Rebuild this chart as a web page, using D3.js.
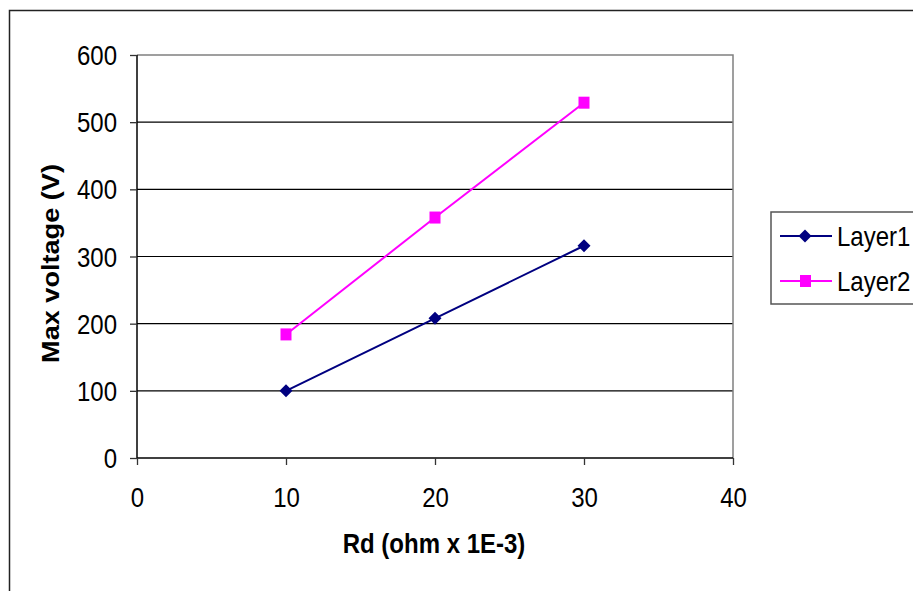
<!DOCTYPE html>
<html><head><meta charset="utf-8">
<script src="https://cdn.jsdelivr.net/npm/d3@7"></script>
<style>body{margin:0;background:#fff;}text{font-family:"Liberation Sans",Arial,sans-serif;}</style>
</head><body>
<svg id="c" width="913" height="591"></svg>
<script>
const xValues = [10, 20, 30];
const layer1 = [100, 208, 316];
const layer2 = [184, 358, 529];
const seriesNames = ["Layer1", "Layer2"];
const xTicks = [0, 10, 20, 30, 40];
const yTicks = [0, 100, 200, 300, 400, 500, 600];
const xTitle = "Rd (ohm x 1E-3)";
const yTitle = "Max voltage (V)";

const SY = 1.13; // vertical stretch of the reference's text
const svg = d3.select("#c");
const L = 137, R = 733, T = 55, B = 458;
const x = d3.scaleLinear().domain([0, 40]).range([L, R]);
const y = d3.scaleLinear().domain([0, 600]).range([B, T]);

// outer border
svg.append("rect").attr("x", 9.5).attr("y", 10.5).attr("width", 1000).attr("height", 1000)
  .attr("fill", "none").attr("stroke", "#222").attr("stroke-width", 1.5);

// gridlines
svg.append("g").selectAll("line").data(yTicks.filter(d => d > 0 && d < 600)).join("line")
  .attr("x1", L).attr("x2", R).attr("y1", d => y(d)).attr("y2", d => y(d))
  .attr("stroke", "#000").attr("stroke-width", 1.2);

// plot border (gray top/right)
svg.append("path").attr("d", `M${L},${T}H${R}V${B}`).attr("fill", "none")
  .attr("stroke", "#808080").attr("stroke-width", 1.5);

// axes
const yAxis = svg.append("g").attr("transform", `translate(${L},0)`)
  .call(d3.axisLeft(y).tickValues(yTicks).tickSize(7).tickFormat(d3.format("d")));
const xAxis = svg.append("g").attr("transform", `translate(0,${B})`)
  .call(d3.axisBottom(x).tickValues(xTicks).tickSize(7).tickFormat(d3.format("d")));
[yAxis, xAxis].forEach(a => {
  a.select(".domain").attr("stroke", "#000").attr("stroke-width", 1.5);
  a.selectAll(".tick line").attr("stroke", "#333").attr("stroke-width", 1.3);
  a.selectAll("text").attr("font-size", 24).attr("fill", "#000")
    .attr("font-family", "'Liberation Sans', Arial, sans-serif")
    .attr("x", 0).attr("y", 0).attr("dy", null);
});
yAxis.selectAll(".tick text").attr("text-anchor", "end")
  .attr("transform", `translate(-20,9.5) scale(1,${SY})`);
xAxis.selectAll(".tick text").attr("text-anchor", "middle")
  .attr("transform", `translate(0,49) scale(1,${SY})`);
yAxis.select(".domain").attr("d", `M0,${T}V${B}`);
xAxis.select(".domain").attr("d", `M${L},0H${R}`);

// series
const colors = ["#000080", "#FF00FF"];
const data = [layer1, layer2];
const line = d3.line().x((d, i) => x(xValues[i])).y(d => y(d));
data.forEach((s, k) => {
  svg.append("path").datum(s).attr("d", line).attr("fill", "none")
    .attr("stroke", colors[k]).attr("stroke-width", 2);
});
const diamond = d3.symbol().type(d3.symbolSquare).size(85);
svg.append("g").selectAll("path").data(layer1).join("path")
  .attr("d", diamond).attr("fill", colors[0])
  .attr("transform", (d, i) => `translate(${x(xValues[i])},${y(d)}) rotate(45)`);
svg.append("g").selectAll("rect").data(layer2).join("rect")
  .attr("x", (d, i) => x(xValues[i]) - 5.5).attr("y", d => y(d) - 6)
  .attr("width", 11).attr("height", 12).attr("fill", colors[1]);

// axis titles
svg.append("text").attr("transform", `translate(434,553) scale(1,${SY})`).attr("text-anchor", "middle")
  .attr("font-size", 24).attr("font-weight", "bold").text(xTitle);
svg.append("text").attr("transform", `translate(59,263.5) scale(1,${SY}) rotate(-90)`).attr("text-anchor", "middle")
  .attr("font-size", 24).attr("font-weight", "bold").text(yTitle);

// legend
const lg = svg.append("g");
lg.append("rect").attr("x", 771).attr("y", 212).attr("width", 300).attr("height", 92)
  .attr("fill", "#fff").attr("stroke", "#555").attr("stroke-width", 1.5);
const ly = [236, 281];
seriesNames.forEach((n, k) => {
  lg.append("line").attr("x1", 780).attr("x2", 832).attr("y1", ly[k]).attr("y2", ly[k])
    .attr("stroke", colors[k]).attr("stroke-width", 2);
  if (k === 0) {
    lg.append("path").attr("d", diamond).attr("fill", colors[0])
      .attr("transform", `translate(805,${ly[k]}) rotate(45)`);
  } else {
    lg.append("rect").attr("x", 800).attr("y", ly[k] - 6).attr("width", 11).attr("height", 12).attr("fill", colors[1]);
  }
  lg.append("text").attr("transform", `translate(837,${ly[k] + 9.5}) scale(1,${SY})`)
    .attr("font-size", 24).text(n);
});
</script>
</body></html>
